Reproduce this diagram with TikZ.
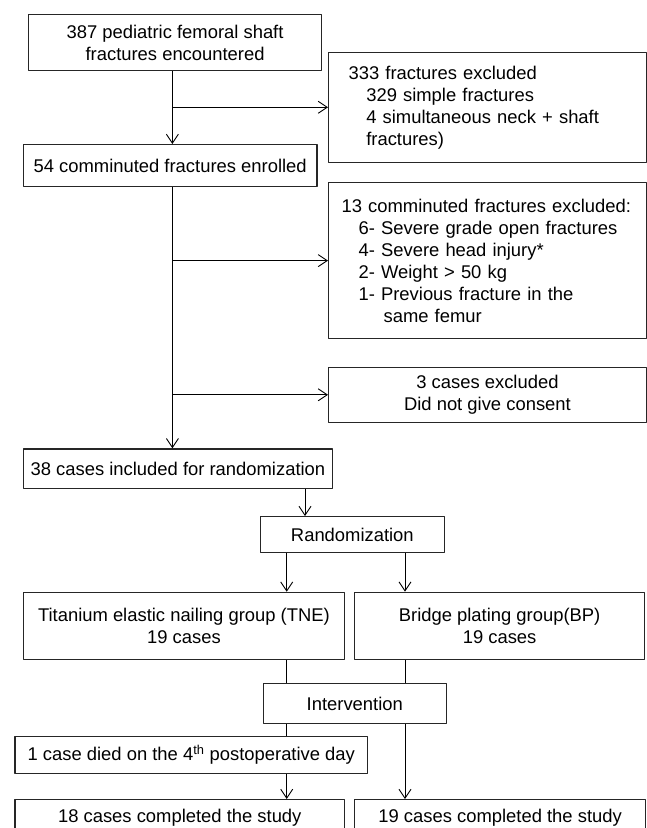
\documentclass[tikz,border=0pt]{standalone}
\usepackage{fontspec}
\setmainfont{Liberation Sans}
\usetikzlibrary{arrows.meta}
\tikzset{
  box/.style={draw=black!85, line width=1.2pt, anchor=north west, inner sep=0pt, align=center},
  listbox/.style={box, align=left, inner xsep=#1}
}
\begin{document}
\begin{tikzpicture}[x=1pt, y=-1pt, font=\fontsize{18.4}{22}\selectfont, line join=round, line width=0.9pt, >={Straight Barb[length=9pt,width=12pt]}]
\useasboundingbox (0,0) rectangle (647,828);
\clip (0,0) rectangle (647,828);
\def \mainx{172.4};
\coordinate (t1) at (\mainx,0);
\coordinate (t2) at (305,0);
\coordinate (t3) at (286.7,0);
\coordinate (t4) at (405,0);
\node[box, minimum width=293pt, minimum height=56pt] (enc) at (28,14) {387 pediatric femoral shaft\\fractures encountered};
\node[listbox=20pt, text width=277.7pt, minimum height=110pt] (exc1) at (328,51.7) {333 fractures excluded\\
\hspace*{17.7pt}329 simple fractures\\
\hspace*{17.7pt}4 simultaneous neck + shaft\\
\hspace*{17.7pt}fractures)};
\node[box, minimum width=293.7pt, minimum height=42pt] (enr) at (22.7,144) {54 comminuted fractures enrolled};
\node[listbox=13pt, text width=292pt, minimum height=156pt] (exc2) at (328,182) {13 comminuted fractures excluded:\\
\hspace*{17pt}6- Severe grade open fractures\\
\hspace*{17pt}4- Severe head injury*\\
\hspace*{17pt}2- Weight > 50 kg\\
\hspace*{17pt}1- Previous fracture in the\\
\hspace*{42pt}same femur};
\node[box, minimum width=317.7pt, minimum height=55pt] (exc3) at (328,366.7) {3 cases excluded\\Did not give consent};
\node[box, minimum width=309.3pt, minimum height=39.3pt] (inc) at (22.7,448.3) {38 cases included for randomization};
\node[box, minimum width=183.5pt, minimum height=35.7pt] (rand) at (260,516) {Randomization};
\node[box, minimum width=321.3pt, minimum height=67.3pt] (tne) at (22.7,591.7) {Titanium elastic nailing group (TNE)\\19 cases};
\node[box, minimum width=290pt, minimum height=67.3pt] (bp) at (354,591.7) {Bridge plating group(BP)\\19 cases};
\node[box, minimum width=183pt, minimum height=40pt] (intv) at (262.7,683) {Intervention};
\node[box, minimum width=352.7pt, minimum height=36.7pt] (died) at (14.3,736) {1 case died on the 4\textsuperscript{th} postoperative day};
\node[box, minimum width=329.7pt, minimum height=37pt] (comp1) at (14.3,799) {18 cases completed the study};
\node[box, minimum width=291pt, minimum height=37pt] (comp2) at (354,799) {19 cases completed the study};
\draw[->] (enc.south -| t1) -- (enr.north -| t1);
\draw[->] (t1 |- exc1.west) -- (exc1.west);
\draw[->] (enr.south -| t1) -- (inc.north -| t1);
\foreach \n in {exc2,exc3}{\draw[->] (t1 |- \n.west) -- (\n.west);}
\draw[->] (inc.south -| t2) -- (rand.north -| t2);
\foreach \n/\t in {tne/t3,bp/t4}{\draw[->] (rand.south -| \t) -- (\n.north -| \t);}
\draw (tne.south -| t3) -- (intv.north -| t3) (intv.south -| t3) -- (died.north -| t3);
\draw[->] (died.south -| t3) -- (comp1.north -| t3);
\draw (bp.south -| t4) -- (intv.north -| t4);
\draw[->] (intv.south -| t4) -- (comp2.north -| t4);
\end{tikzpicture}
\end{document}
